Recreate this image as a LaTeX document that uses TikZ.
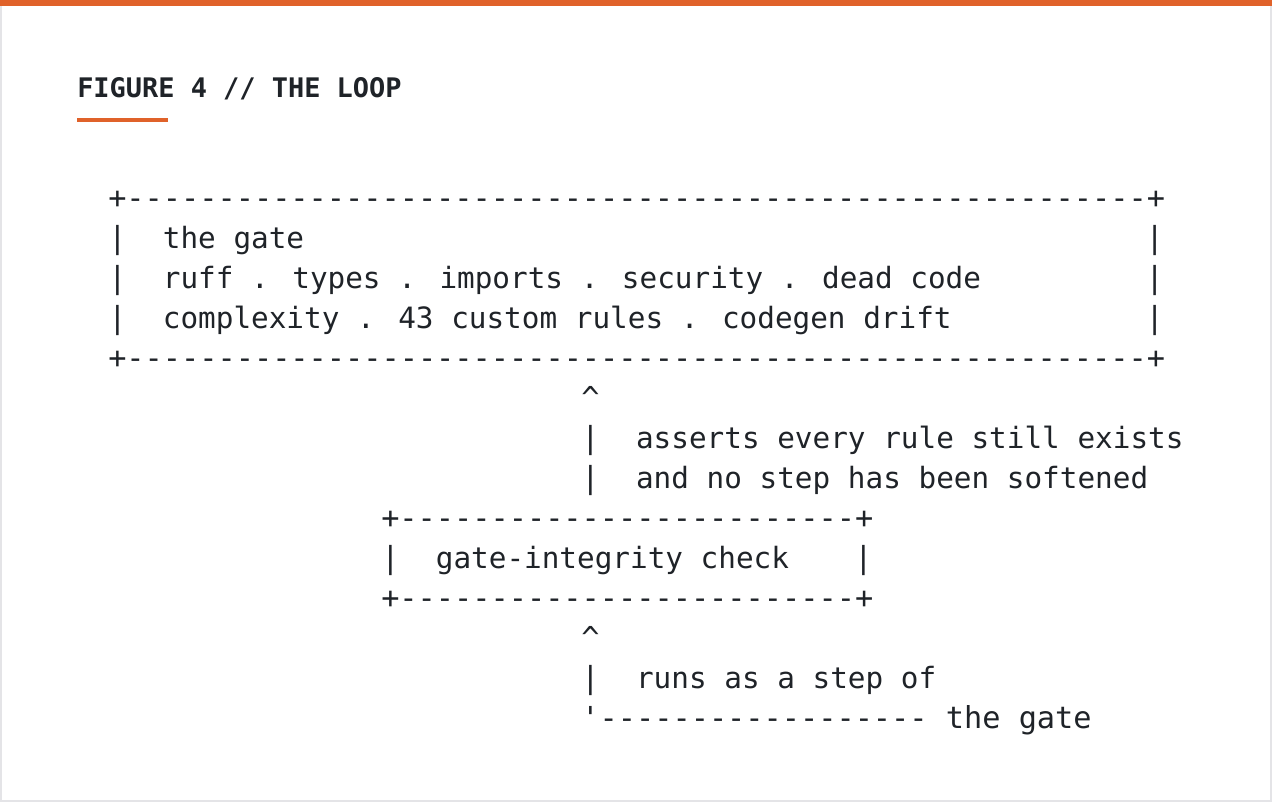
\documentclass[tikz,border=0pt]{standalone}
\usepackage{fontspec}
\newfontfamily\codefont{DejaVu Sans Mono}
\definecolor{ink}{HTML}{1F2328}
\definecolor{accent}{HTML}{E0622A}
\definecolor{frame}{HTML}{E4E4E7}
\begin{document}
\begin{tikzpicture}[x=0.75pt,y=-0.75pt,
	art/.style={anchor=west,inner sep=0pt,text=ink,font=\codefont\fontsize{22.7}{26}\selectfont,text height=0.75em,text depth=0.25em},
	words/.style={art,font=\codefont\fontsize{22}{26}\selectfont},
	title/.style={anchor=west,inner sep=0pt,text=ink,font=\codefont\bfseries\fontsize{20.2}{24}\selectfont}]

	% page, frame and accents
	\useasboundingbox (0,0) rectangle (1272,802);
	\fill[white] (0,0) rectangle (1272,802);
	\draw[frame,line width=1.5pt] (1,1) rectangle (1271,801);
	\fill[accent] (0,0) rectangle (1272,6);
	\node[title] (caption) at (77,89) {FIGURE 4 // THE LOOP};
	\fill[accent] (77,118) rectangle (168,122);

	% the gate box
	\node[art] (gatetop) at (108,205) {+--------------------------------------------------------+};
	\foreach \r/\t in {1/the gate,2/ruff . types . imports . security . dead code,3/complexity . 43 custom rules . codegen drift}{
		\node[art] (gatel\r) at (108,205+40*\r) {|};
		\node[words] (gatetext\r) at (108+3*18.2,205+40*\r) {\t};
		\node[art] (gater\r) at (108+57*18.2,205+40*\r) {|};
	}
	\node[art] (gatebot) at (108,365) {+--------------------------------------------------------+};

	% upper link
	\node[art] (uptip) at (108+26*18.2,405) {\textasciicircum};
	\node[art] (upbar1) at (108+26*18.2,445) {|};
	\node[words] (uplabel1) at (108+29*18.2,445) {asserts every rule still exists};
	\node[art] (upbar2) at (108+26*18.2,485) {|};
	\node[words] (uplabel2) at (108+29*18.2,485) {and no step has been softened};

	% integrity check box
	\node[art] (checktop) at (108+15*18.2,525) {+-------------------------+};
	\node[art] (checkl) at (108+15*18.2,565) {|};
	\node[words] (checktext) at (108+18*18.2,565) {gate-integrity check};
	\node[art] (checkr) at (108+41*18.2,565) {|};
	\node[art] (checkbot) at (108+15*18.2,605) {+-------------------------+};

	% lower link
	\node[art] (lowtip) at (108+26*18.2,645) {\textasciicircum};
	\node[art] (lowbar) at (108+26*18.2,685) {|};
	\node[words] (lowlabel) at (108+29*18.2,685) {runs as a step of};
	\node[art] (lowret) at (108+26*18.2,725) {'------------------ the gate};

\end{tikzpicture}
\end{document}
